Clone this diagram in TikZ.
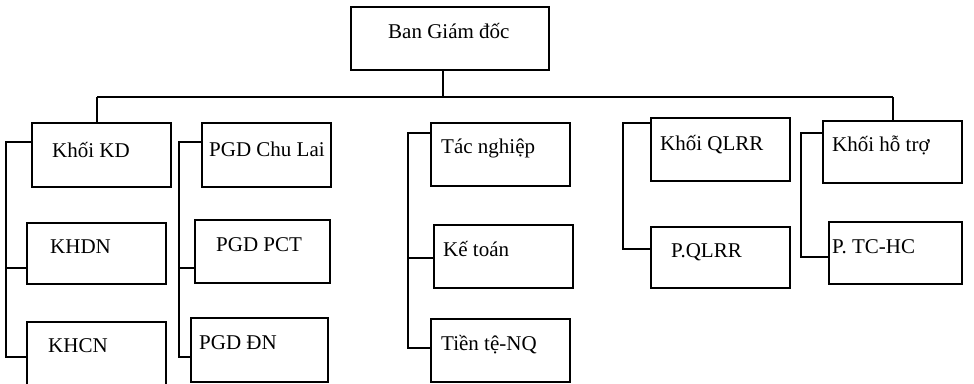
\documentclass[tikz,border=0pt]{standalone}
\usepackage{fontspec}
\setmainfont{Liberation Serif}
\usetikzlibrary{fit}
\begin{document}
\begin{tikzpicture}[x=1pt,y=-1pt,
  box/.style={draw, line width=1.6pt, inner sep=0pt, rectangle},
  lbl/.style={anchor=base west, inner sep=0pt, font=\fontsize{21}{25}\selectfont},
  conn/.style={line width=1.6pt}]
\useasboundingbox (0,0) rectangle (974,383);
\clip (0,0) rectangle (974,383);
% boxes
\node[box, fit={(351,7) (549,70)}] (bgd) {};
\node[box, fit={(32,123) (171,187)}] (kd) {};
\node[box, fit={(27,223) (166,284)}] (khdn) {};
\node[box, fit={(27,322) (166,392)}] (khcn) {};
\node[box, fit={(202,123) (331,187)}] (chulai) {};
\node[box, fit={(195,220) (330,283)}] (pct) {};
\node[box, fit={(191,318) (328,382)}] (pgddn) {};
\node[box, fit={(431,123) (570,186)}] (tacng) {};
\node[box, fit={(434,225) (573,288)}] (ketoan) {};
\node[box, fit={(431,319) (570,382)}] (tiente) {};
\node[box, fit={(651,118) (790,181)}] (qlrr) {};
\node[box, fit={(651,227) (790,288)}] (pqlrr) {};
\node[box, fit={(823,121) (962,183)}] (hotro) {};
\node[box, fit={(829,222) (962,284)}] (ptchc) {};
% labels
\node[lbl] (t-bgd) at (388,38) {Ban Giám đốc};
\node[lbl] (t-kd) at (52,157) {Khối KD};
\node[lbl] (t-khdn) at (50,253) {KHDN};
\node[lbl] (t-khcn) at (48,352) {KHCN};
\node[lbl] (t-chulai) at (209,156) {PGD Chu Lai};
\node[lbl] (t-pct) at (216,251) {PGD PCT};
\node[lbl] (t-pgddn) at (199,349) {PGD ĐN};
\node[lbl] (t-tacng) at (441,153) {Tác nghiệp};
\node[lbl] (t-ketoan) at (443,256) {Kế toán};
\node[lbl] (t-tiente) at (441,350) {Tiền tệ-NQ};
\node[lbl] (t-qlrr) at (660,150) {Khối QLRR};
\node[lbl] (t-pqlrr) at (671,257) {P.QLRR};
\node[lbl] (t-hotro) at (832,151) {Khối hỗ trợ};
\node[lbl] (t-ptchc) at (832,253) {P. TC-HC};
% top bus
\coordinate (busL) at (97,97);
\coordinate (busR) at (893,97);
\coordinate (busM) at (443,97);
\draw[conn] (busL) -- (busR);
\draw[conn] (busM |- bgd.south) -- (busM);
\draw[conn] (busL) -- (busL |- kd.north);
\draw[conn] (busR) -- (busR |- hotro.north);
% left bracket
\draw[conn] (kd.west |- 0,142) -- (6,142) -- (6,357) -- (khcn.west |- 0,357);
\draw[conn] (6,268) -- (khdn.west |- 0,268);
% PGD bracket
\draw[conn] (chulai.west |- 0,142) -- (179,142) -- (179,357) -- (pgddn.west |- 0,357);
\draw[conn] (179,268) -- (pct.west |- 0,268);
% middle bracket
\draw[conn] (tacng.west |- 0,133) -- (408,133) -- (408,348) -- (tiente.west |- 0,348);
\draw[conn] (408,258) -- (ketoan.west |- 0,258);
% QLRR bracket
\draw[conn] (qlrr.west |- 0,123) -- (623,123) -- (623,249) -- (pqlrr.west |- 0,249);
% hotro bracket
\draw[conn] (hotro.west |- 0,133) -- (801,133) -- (801,257) -- (ptchc.west |- 0,257);
\end{tikzpicture}
\end{document}
